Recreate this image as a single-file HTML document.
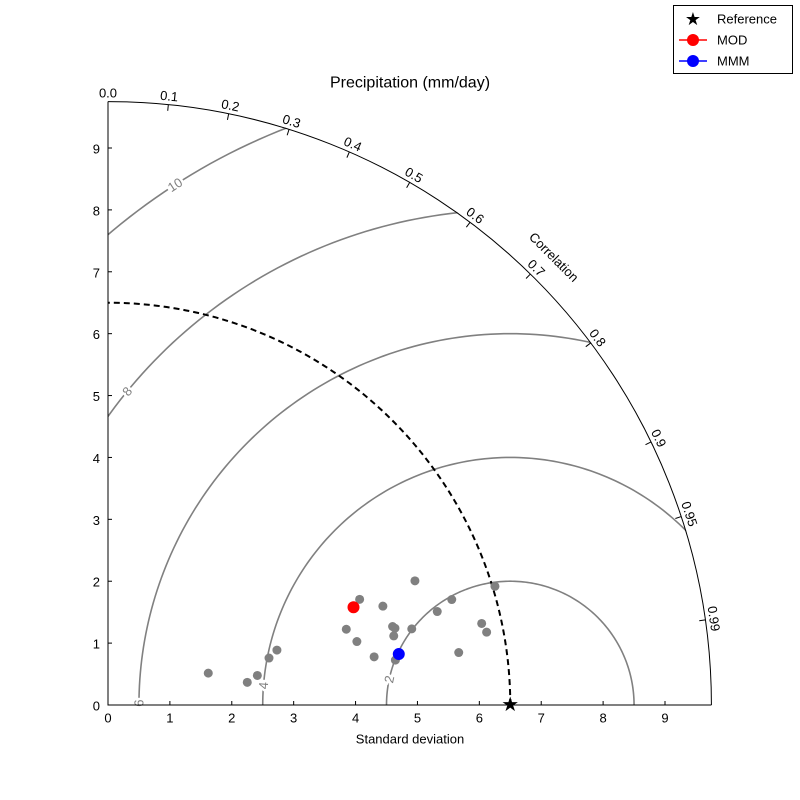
<!DOCTYPE html>
<html><head><meta charset="utf-8"><style>
body{margin:0;background:#fff}
svg{display:block;font-family:"Liberation Sans","DejaVu Sans",sans-serif}
</style></head><body>
<svg id="c" width="800" height="800" viewBox="0 0 800 800">
<defs><clipPath id="qd"><path d="M108,705 L712,705 A604,604 0 0 0 108,101 Z"/></clipPath></defs>
<rect width="800" height="800" fill="#fff"/>
<g id="g"></g>
</svg>
<script>
const refStd = 6.5;
const maxStd = 9.75;
const rmsLevels = [2, 4, 6, 8, 10];
const rmsLabelAngles = [168, 175.5, 179.7, 140.7, 122.8];
const corrTicks = [0.0,0.1,0.2,0.3,0.4,0.5,0.6,0.7,0.8,0.9,0.95,0.99];
const stdTicks = [0,1,2,3,4,5,6,7,8,9];
const modelStd = [1.70,2.28,2.46,2.71,2.87,4.04,4.15,4.41,4.37,4.72,4.77,4.75,4.80,4.70,5.06,5.35,5.53,5.81,5.73,6.18,6.23,6.54];
const modelCorr = [0.953,0.987,0.981,0.960,0.951,0.953,0.969,0.922,0.984,0.941,0.964,0.972,0.966,0.988,0.970,0.927,0.962,0.956,0.989,0.977,0.982,0.956];
const modStd = [4.27];
const modCorr = [0.929];
const mmmStd = [4.77];
const mmmCorr = [0.985];

const NS="http://www.w3.org/2000/svg";
const g=document.getElementById('g');
const ox=108, oy=705, k=(665-108)/9;
const X=v=>ox+v*k, Y=v=>oy-v*k;
function polar(s,c){const t=Math.acos(c);return [X(s*Math.cos(t)),Y(s*Math.sin(t))];}
function el(tag,attrs,parent){const e=document.createElementNS(NS,tag);for(const a in attrs)e.setAttribute(a,attrs[a]);(parent||g).appendChild(e);return e;}
function txt(x,y,s,attrs){const e=el('text',Object.assign({x:x,y:y,'font-size':13,'text-anchor':'middle','dominant-baseline':'central'},attrs||{}));e.textContent=s;return e;}

const cg=el('g',{'clip-path':'url(#qd)'});
rmsLevels.forEach((r,i)=>{
  let d='';
  for(let a=0;a<=180;a+=1){const px=X(refStd+r*Math.cos(a*Math.PI/180)), py=Y(r*Math.sin(a*Math.PI/180));d+=(a?'L':'M')+px.toFixed(2)+','+py.toFixed(2);}
  const p=el('path',{d:d,fill:'none',stroke:'#808080','stroke-width':1.6},cg);
  
  
});
rmsLevels.forEach((r,i)=>{
  const a=rmsLabelAngles[i]*Math.PI/180;
  const px=X(refStd+r*Math.cos(a)), py=Y(r*Math.sin(a));
  const rot=-(rmsLabelAngles[i]-90);
  const t=txt(px,py,String(r),{fill:'#808080',stroke:'#fff','stroke-width':5,'paint-order':'stroke',transform:`rotate(${rot} ${px} ${py})`});
  
  
});

const oa=el('path',{d:`M${X(maxStd)},${oy} A${maxStd*k},${maxStd*k} 0 0 0 ${ox},${Y(maxStd)}`,fill:'none',stroke:'#000','stroke-width':1});


const ra=el('path',{d:`M${X(refStd)},${oy} A${refStd*k},${refStd*k} 0 0 0 ${ox},${Y(refStd)}`,fill:'none',stroke:'#000','stroke-width':2,'stroke-dasharray':'6,4'});



corrTicks.forEach(c=>{
  const t=Math.acos(c);
  const [x1,y1]=polar(maxStd,c),[x2,y2]=polar(maxStd-0.1,c);
  const tk=el('line',{x1:x1,y1:y1,x2:x2,y2:y2,stroke:'#000'});
  
  
  const lx=ox+612*Math.cos(t), ly=oy-612*Math.sin(t);
  const rot=90-t*180/Math.PI;
  const lb=txt(lx,ly,c.toFixed(c===0.95||c===0.99?2:1),{transform:`rotate(${rot} ${lx} ${ly})`});
  
  
});
const clx=ox+632*Math.cos(Math.PI/4)-1, cly=oy-632*Math.sin(Math.PI/4)-1;
const cl=txt(clx,cly,'Correlation',{transform:`rotate(45 ${clx} ${cly})`});



const ax=el('path',{d:`M${ox},${Y(maxStd)} L${ox},${oy} L${X(maxStd)},${oy}`,fill:'none',stroke:'#000','stroke-width':1});


stdTicks.forEach(v=>{
  const a=el('line',{x1:X(v),y1:oy,x2:X(v),y2:oy-4,stroke:'#000'});
  
  
  const b=txt(X(v),oy+13,String(v));
  
  
  const c=el('line',{x1:ox,y1:Y(v),x2:ox+4,y2:Y(v),stroke:'#000'});
  
  
  const d=txt(ox-8,Y(v)+1,String(v),{'text-anchor':'end'});
  
  
});
const xl=txt(410,739,'Standard deviation');


const ti=txt(410,83,'Precipitation (mm/day)',{'font-size':16});



modelStd.forEach((s,i)=>{
  const [px,py]=polar(s,modelCorr[i]);
  const p=el('circle',{cx:px,cy:py,r:4.5,fill:'#808080'});
  
  
});
modStd.forEach((s,i)=>{const [px,py]=polar(s,modCorr[i]);const p=el('circle',{cx:px,cy:py,r:6,fill:'#f00'});
  
  });
mmmStd.forEach((s,i)=>{const [px,py]=polar(s,mmmCorr[i]);const p=el('circle',{cx:px,cy:py,r:6,fill:'#00f'});
  
  });
const st=txt(X(refStd),oy,'★',{'font-size':20});



const lg=el('g',{});


el('rect',{x:673.5,y:5.5,width:119,height:68,fill:'#fff',stroke:'#000'},lg);
const e1=txt(693,19,'★',{'font-size':18});lg.appendChild(e1);
const l1=txt(717,19,'Reference',{'text-anchor':'start'});lg.appendChild(l1);


el('line',{x1:679,y1:40,x2:707,y2:40,stroke:'#f00','stroke-width':1.5},lg);
el('circle',{cx:693,cy:40,r:6,fill:'#f00'},lg);
const l2=txt(717,40,'MOD',{'text-anchor':'start'});lg.appendChild(l2);


el('line',{x1:679,y1:61,x2:707,y2:61,stroke:'#00f','stroke-width':1.5},lg);
el('circle',{cx:693,cy:61,r:6,fill:'#00f'},lg);
const l3=txt(717,61,'MMM',{'text-anchor':'start'});lg.appendChild(l3);


</script>
</body></html>
